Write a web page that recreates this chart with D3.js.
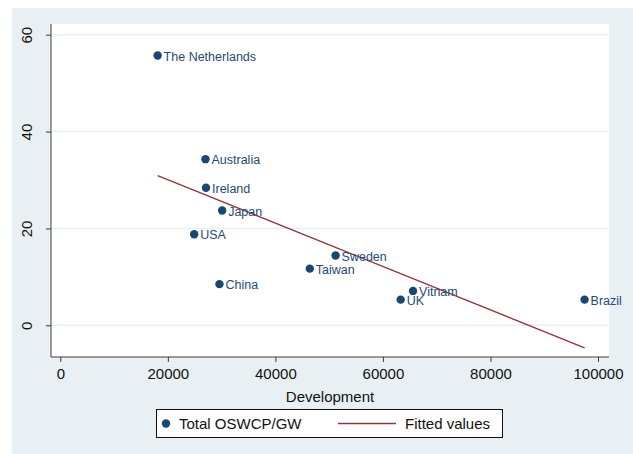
<!DOCTYPE html>
<html>
<head>
<meta charset="utf-8">
<script src="https://cdn.jsdelivr.net/npm/d3@7"></script>
<style>
  html, body { margin: 0; padding: 0; background: #ffffff; }
  svg { display: block; font-family: "Liberation Sans", Arial, sans-serif; }
</style>
</head>
<body>
<svg id="chart" width="633" height="454"></svg>
<script>
// Countries, development level and total OSWCP per GW
const countries = ["The Netherlands", "Australia", "Ireland", "Japan", "USA", "China",
                   "Taiwan", "Sweden", "Vitnam", "UK", "Brazil"];
const development = [18100, 27000, 27100, 30100, 24900, 29600, 46400, 51200, 65600, 63300, 97500];
const oswcp = [55.7, 34.3, 28.4, 23.7, 18.8, 8.5, 11.7, 14.4, 7.1, 5.3, 5.3];

// Linear fit line, endpoints at the smallest and largest development values
const fitX = [18100, 97500];
const fitY = [30.9, -4.65];

const xTicks = [0, 20000, 40000, 60000, 80000, 100000];
const yTicks = [0, 20, 40, 60];

const navy = "#1a476f";
const maroon = "#90353b";
const axisColor = "#3c3c3c";
const gridColor = "#e7eff2";

const svg = d3.select("#chart");

// graph region background
svg.append("rect").attr("x", 12).attr("y", 8).attr("width", 621).attr("height", 446)
  .attr("fill", "#e8f0f3");

// plot region
const plot = { left: 51, top: 24, right: 609, bottom: 357 };
svg.append("rect").attr("x", plot.left).attr("y", plot.top)
  .attr("width", plot.right - plot.left).attr("height", plot.bottom - plot.top)
  .attr("fill", "#ffffff");

const x = d3.scaleLinear().domain([0, 100000]).range([60.3, 598]);
const y = d3.scaleLinear().domain([0, 60]).range([325.3, 34.7]);

// horizontal grid lines
svg.append("g").selectAll("line").data(yTicks).join("line")
  .attr("x1", plot.left).attr("x2", plot.right)
  .attr("y1", d => y(d)).attr("y2", d => y(d))
  .attr("stroke", gridColor).attr("stroke-width", 1.5);

// y axis
const yAxis = svg.append("g").attr("transform", `translate(${plot.left},0)`)
  .call(d3.axisLeft(y).tickValues(yTicks).tickSize(5).tickPadding(8).tickSizeOuter(0));
yAxis.select(".domain").attr("d", `M0,${plot.top}V${plot.bottom}`).attr("stroke", axisColor);
yAxis.selectAll(".tick line").attr("stroke", axisColor);
yAxis.selectAll(".tick text")
  .attr("transform", "rotate(-90)")
  .attr("x", 0).attr("y", -19).attr("dy", "0")
  .attr("text-anchor", "middle")
  .attr("font-size", 15).attr("fill", "#111");

// x axis
const xAxis = svg.append("g").attr("transform", `translate(0,${plot.bottom})`)
  .call(d3.axisBottom(x).tickValues(xTicks).tickFormat(d3.format("d")).tickSize(5).tickPadding(6).tickSizeOuter(0));
xAxis.select(".domain").attr("d", `M${plot.left},0H${plot.right}`).attr("stroke", axisColor);
xAxis.selectAll(".tick line").attr("stroke", axisColor);
xAxis.selectAll(".tick text").attr("font-size", 15).attr("fill", "#111");

// axis title
svg.append("text").attr("x", 330).attr("y", 402).attr("text-anchor", "middle")
  .attr("font-size", 15).attr("fill", "#111").text("Development");

// fitted values
svg.append("line")
  .attr("x1", x(fitX[0])).attr("y1", y(fitY[0]))
  .attr("x2", x(fitX[1])).attr("y2", y(fitY[1]))
  .attr("stroke", maroon).attr("stroke-width", 1.3);

// scatter points with labels
const pts = svg.append("g").selectAll("g").data(countries).join("g")
  .attr("transform", (d, i) => `translate(${x(development[i])},${y(oswcp[i])})`);
pts.append("circle").attr("r", 4.2).attr("fill", navy);
pts.append("text").attr("x", 6).attr("y", 0.5).attr("dy", "0.36em")
  .attr("font-size", 12.5).attr("fill", "#1f4b74").text(d => d);

// legend
const lg = svg.append("g");
lg.append("rect").attr("x", 156.5).attr("y", 409.5).attr("width", 346).attr("height", 28)
  .attr("fill", "#ffffff").attr("stroke", "#111").attr("stroke-width", 1);
lg.append("circle").attr("cx", 166).attr("cy", 423.5).attr("r", 4.2).attr("fill", navy);
lg.append("text").attr("x", 179).attr("y", 423.5).attr("dy", "0.36em")
  .attr("font-size", 15).attr("fill", "#111").text("Total OSWCP/GW");
lg.append("line").attr("x1", 338).attr("x2", 396).attr("y1", 423.5).attr("y2", 423.5)
  .attr("stroke", maroon).attr("stroke-width", 1.3);
lg.append("text").attr("x", 405).attr("y", 423.5).attr("dy", "0.36em")
  .attr("font-size", 15).attr("fill", "#111").text("Fitted values");
</script>
</body>
</html>
